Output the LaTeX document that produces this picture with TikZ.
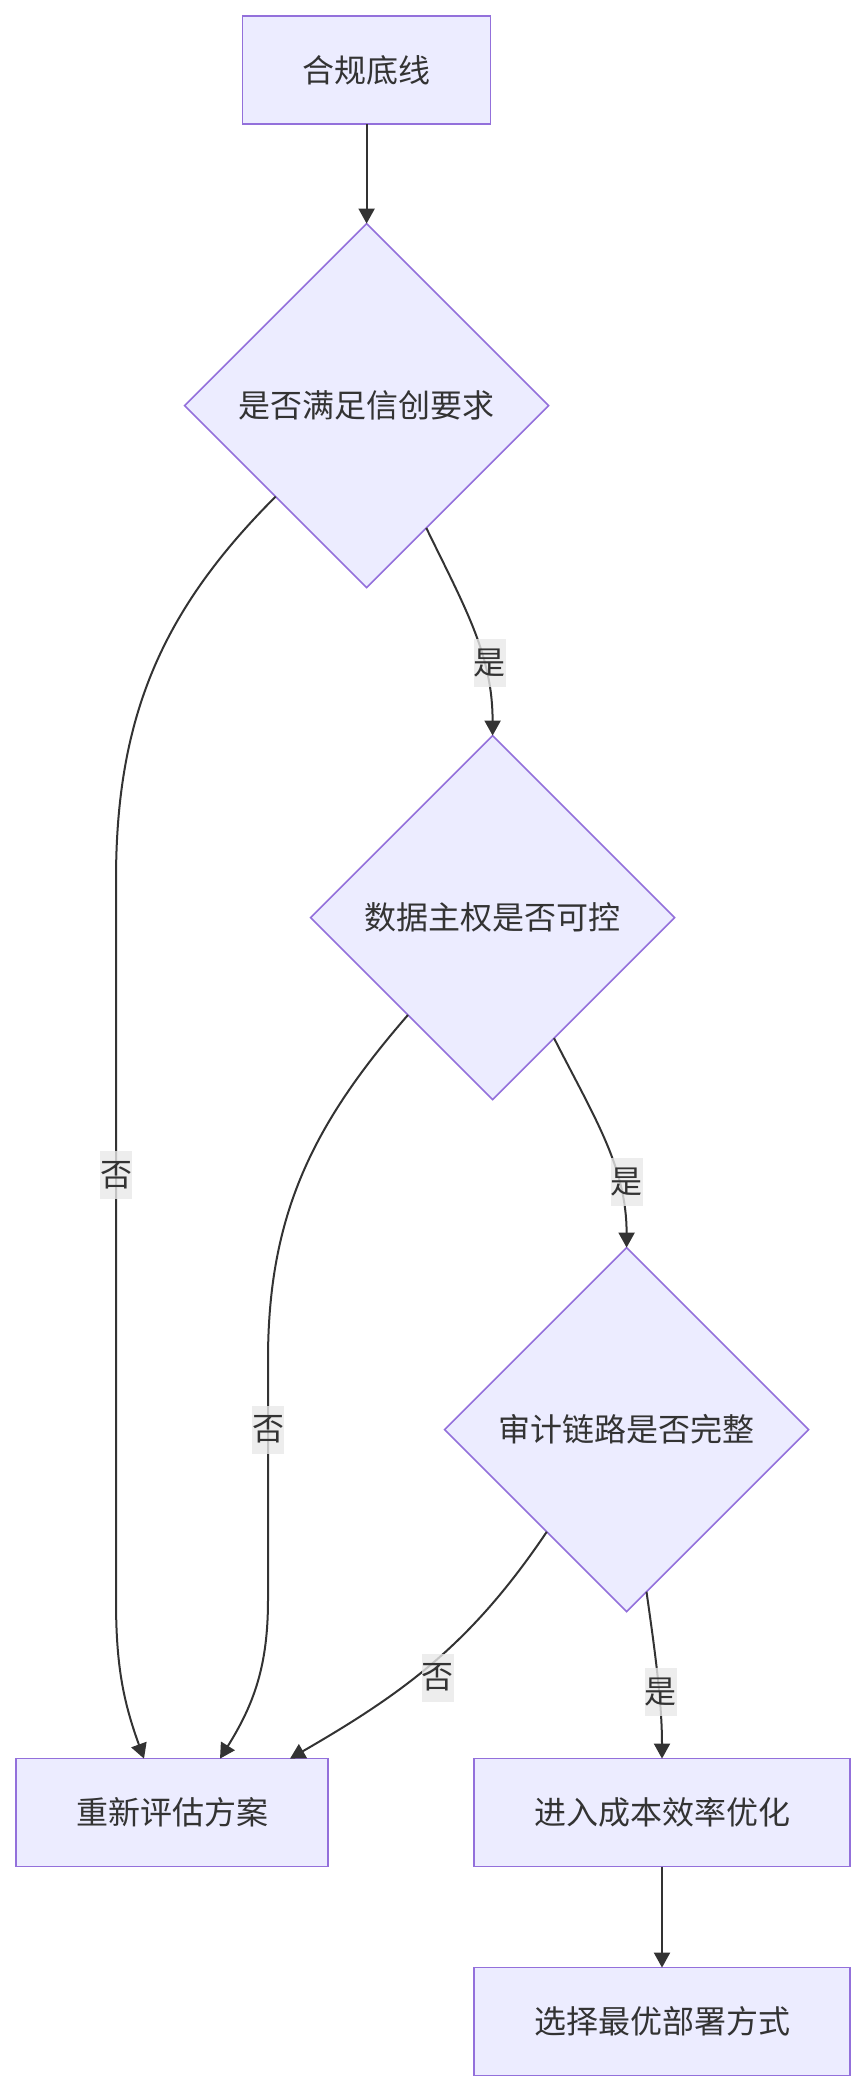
\documentclass[tikz,border=0pt]{standalone}
\usepackage{fontspec}
\setmainfont{Noto Sans CJK SC}
\usepackage{xcolor}
\usepackage{tikz}
\usetikzlibrary{shapes.geometric, arrows.meta, positioning}

\definecolor{nodefill}{HTML}{ECECFF}
\definecolor{nodeline}{HTML}{9370DB}
\definecolor{inkgray}{HTML}{333333}
\definecolor{lblfill}{HTML}{E8E8E8}

\begin{document}
\begin{tikzpicture}[
    font=\fontsize{16pt}{19pt}\selectfont,
    box/.style={rectangle, draw=nodeline, line width=0.8pt, fill=nodefill, text=inkgray, minimum width=#1, minimum height=54pt, outer sep=0pt, align=center},
    decision/.style={diamond, draw=nodeline, line width=0.8pt, fill=nodefill, text=inkgray, minimum width=182pt, minimum height=182pt, inner sep=0pt, outer sep=0pt, align=center},
    arrow/.style={-{Triangle[length=7.5pt, width=8pt]}, line width=1pt, draw=inkgray},
    lbl/.style={fill=lblfill, fill opacity=0.8, text opacity=1, text=inkgray, inner sep=0pt, minimum width=16pt, minimum height=24pt}
]
    \useasboundingbox (0,0) rectangle (433pt,-1046pt);

    \node[box=124pt] (baseline) at (183.3pt,-35pt) {合规底线};
    \node[decision, below=49.8pt of baseline] (xinchuang) {是否满足信创要求};
    \node[decision, below=74pt of xinchuang, xshift=63pt] (sovereignty) {数据主权是否可控};
    \node[decision, below=74pt of sovereignty, xshift=67pt] (audit) {审计链路是否完整};
    \node[box=188pt, below=73.5pt of audit, xshift=17.7pt] (optimize) {进入成本效率优化};
    \node[box=156pt, left=73pt of optimize] (reassess) {重新评估方案};
    \node[box=188pt, below=50.5pt of optimize] (deploy) {选择最优部署方式};

    % yes branch
    \draw[arrow] (baseline) -- (xinchuang);
    \draw[arrow] (xinchuang.-64) .. controls +(-64:45pt) and +(0,40pt) .. node[lbl, pos=0.66, xshift=3pt] {是} (sovereignty.north);
    \draw[arrow] (sovereignty.-63) .. controls +(-63:45pt) and +(0,40pt) .. node[lbl, pos=0.7, xshift=4pt] {是} (audit.north);
    \draw[arrow] (audit.-83) .. controls +(-82:25pt) and +(0,30pt) .. node[lbl, pos=0.62, xshift=1pt] {是} (optimize.north);
    \draw[arrow] (optimize) -- (deploy);

    % no branch
    \draw[arrow] (xinchuang.south west) to[out=-135, in=90] (58pt,-440pt) -- node[lbl, pos=0.41] {否} (58pt,-800pt) to[out=-90, in=110] ([xshift=-14pt]reassess.north);
    \draw[arrow] (sovereignty.-131) to[out=-131, in=90] (134pt,-680pt) -- node[lbl, pos=0.29] {否} (134pt,-800pt) to[out=-90, in=58] ([xshift=24pt]reassess.north);
    \draw[arrow] (audit.-128) to[out=-124, in=30] node[lbl, pos=0.5, xshift=2pt, yshift=-8pt] {否} ([xshift=59pt]reassess.north);
\end{tikzpicture}
\end{document}
